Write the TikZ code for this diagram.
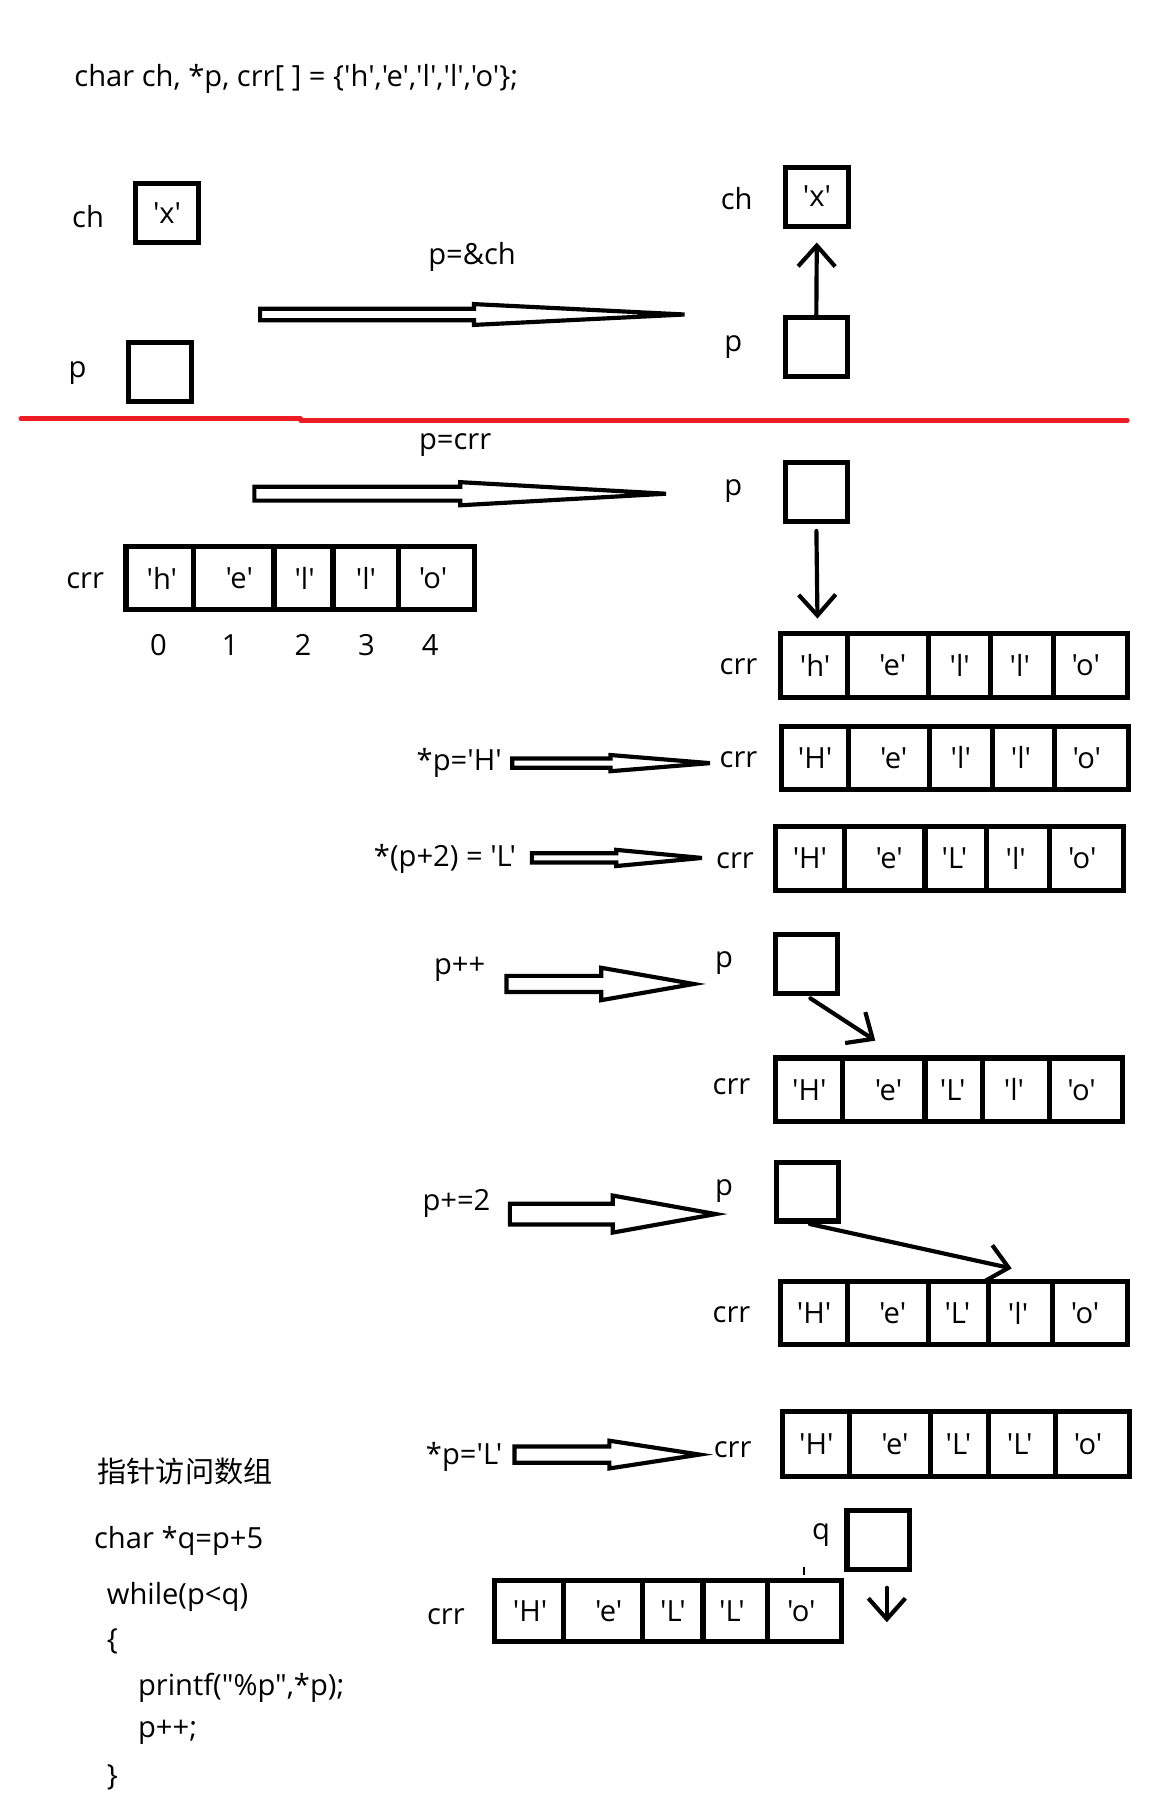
\documentclass[tikz,border=0pt]{standalone}
\usepackage{fontspec}
\setmainfont{Open Sans}[Ligatures=TeXOff]
\newfontfamily\cjk{Noto Sans CJK SC}
\usetikzlibrary{arrows.meta}
\definecolor{paintred}{RGB}{237,28,36}
\newcommand\harr[6]{\draw[harrow] (#1,{#4-#5}) -- (#2,{#4-#5}) -- (#2,{#4-#6}) -- (#3,#4) -- (#2,{#4+#6}) -- (#2,{#4+#5}) -- (#1,{#4+#5}) -- cycle;}
\newcommand\crrrow[4]{%
  \foreach \xa/\xb/\ct/\dx [count=\i] in {#4} {
    \node[cell, minimum width={(\xb-\xa)*0.5pt}, minimum height={(#3-#2)*0.5pt}] (#1\i) at ({(\xa+\xb)/2},{(#2+#3)/2}) {};
    \node[txt, inner sep=0pt] (#1t\i) at ({(\xa+\xb)/2+\dx},{(#2+#3)/2}) {\ct};
  }}
\begin{document}
\begin{tikzpicture}[x=0.5pt,y=-0.5pt,
  txt/.style={font=\fontsize{12.6}{15}\selectfont},
  lbl/.style={txt, anchor=west, inner sep=0pt},
  cell/.style={draw, line width=2.2pt, inner sep=0pt},
  box/.style={txt, draw, line width=2.2pt, inner sep=0pt, minimum width=27pt, minimum height=25.5pt},
  ptr/.style={line width=1.8pt, line cap=round, -{Straight Barb[length=9pt,width=16pt,line width=1.8pt]}},
  harrow/.style={line width=1.8pt, line join=miter},
  sep/.style={draw=paintred, line width=2pt}
]
\useasboundingbox (0,0) rectangle (1013,1568);
% title
\node[lbl] (title) at (64,68) {char ch, *p, crr[ ] = \{'h','e','l','l','o'\};};
% left top
\node[lbl] (chl) at (62,187) {ch};
\node[box] (ch1) at (144.5,184.5) {'x'};
\node[lbl] (pl) at (59,323) {p};
\node[box] (p1) at (138.5,322) {};
\node[lbl] (op1) at (370,222) {p=\&ch};
\harr{225}{410}{592}{272}{5}{9}
% right top
\node[lbl] (chr) at (623,172) {ch};
\node[box] (ch2) at (706.5,170) {'x'};
\node[lbl] (pr) at (626,300) {p};
\node[box] (p2) at (706,300) {};
\draw[ptr, shorten >=6pt] (p2.north) -- (ch2.south);
% red separator
\coordinate (s1) at (18,362);
\coordinate (s2) at (260,362);
\coordinate (s3) at (260,363.5);
\coordinate (s4) at (975,363.5);
\draw[sep, line cap=round] (s1) -- (s2);
\draw[sep, line cap=round] (s3) -- (s4);
% p=crr
\node[lbl] (op2) at (362,385) {p=crr};
\harr{220}{398}{576}{427}{6}{10}
\node[lbl] (pr3) at (626,425) {p};
\node[box] (p3) at (706,425.5) {};
\node[lbl] (crr0) at (57,502) {crr};
\crrrow{a}{473}{527}{109/167/'h'/2,167/237/'e'/5,237/288/'l'/1,288/345/'l'/0,345/410/'o'/-3}
\foreach \xx/\nn in {137/0,199/1,262/2,317/3,372/4}
  \node[txt, inner sep=0pt] (idx\nn) at (\xx,558) {\nn};
\node[lbl] (crr1) at (622,577) {crr};
\crrrow{b}{548}{603}{675/733/'h'/1,733/803/'e'/4,803/857/'l'/0,857/911/'l'/-2,911/975/'o'/-4}
\coordinate (t1) at (707,535);
\draw[ptr, shorten <=3pt] (p3.south) -- (t1);
% *p='H'
\node[lbl] (op3) at (360,660) {*p='H'};
\harr{443}{528}{614}{660}{4}{7}
\node[lbl] (crr2) at (622,657) {crr};
\crrrow{c}{628}{683}{676/734/'H'/0,734/804/'e'/4,804/858/'l'/0,858/912/'l'/-2,912/976/'o'/-4}
% *(p+2)='L'
\node[lbl] (op4) at (323,743) {*(p+2) = 'L'};
\harr{460}{533}{607}{742}{4}{7}
\node[lbl] (crr3) at (619,744) {crr};
\crrrow{d}{715}{770}{671/730/'H'/0,730/800/'e'/4,800/853/'L'/-1,853/908/'l'/-2,908/972/'o'/-4}
% p++
\node[lbl] (op5) at (375,838) {p++};
\harr{438}{520}{600}{851}{7}{14}
\node[lbl] (pr4) at (618,833) {p};
\node[box] (p4) at (697.5,833.5) {};
\node[lbl] (crr4) at (616,940) {crr};
\crrrow{e}{915}{970}{671/729/'H'/0,729/800/'e'/4,800/850/'L'/-1,850/908/'l'/-2,908/971/'o'/-4}
\coordinate (t2) at (757,900);
\draw[ptr, shorten <=2pt] (p4.south) -- (t2);
% p+=2
\node[lbl] (op6) at (365,1041) {p+=2};
\harr{441}{530}{619}{1050}{9}{16}
\node[lbl] (pr5) at (618,1030) {p};
\node[box] (p5) at (698.5,1030.5) {};
\node[lbl] (crr5) at (616,1137) {crr};
\crrrow{f}{1108}{1163}{675/733/'H'/0,733/803/'e'/4,803/855/'L'/-1,855/910/'l'/-2,910/975/'o'/-4}
\coordinate (t3) at (875,1097);
\draw[ptr, shorten <=1pt] (p5.south) -- (t3);
% *p='L'
\node[lbl] (op7) at (368,1260) {*p='L'};
\harr{445}{527}{605}{1258}{7}{12}
\node[lbl] (crr6) at (617,1254) {crr};
\crrrow{g}{1221}{1277}{677/735/'H'/0,735/805/'e'/4,805/855/'L'/-1,855/913/'L'/-2,913/977/'o'/-4}
% bottom
\node[lbl] (cn) at (84,1273) {\cjk 指针访问数组};
\node[lbl] (ql) at (702,1328) {q};
\node[box] (q) at (759.5,1331.5) {};
\coordinate (t4) at (767,1403);
\draw[ptr, shorten <=7pt] (q.south -| t4) -- (t4);
\draw[line width=0.8pt] (695,1355) -- (695,1362);
\node[lbl] (crr7) at (369,1398) {crr};
\crrrow{h}{1367}{1420}{428/487/'H'/1,487/556/'e'/5,556/608/'L'/0,608/664/'L'/-3,664/728/'o'/-3}
% code
\node[lbl] (c1) at (81,1333) {char *q=p+5};
\node[lbl] (c2) at (92,1381) {while(p<q)};
\node[lbl] (c3) at (92,1420) {\{};
\node[lbl] (c4) at (119,1460) {printf("\%p",*p);};
\node[lbl] (c5) at (119,1498) {p++;};
\node[lbl] (c6) at (92,1537) {\}};
\end{tikzpicture}
\end{document}
